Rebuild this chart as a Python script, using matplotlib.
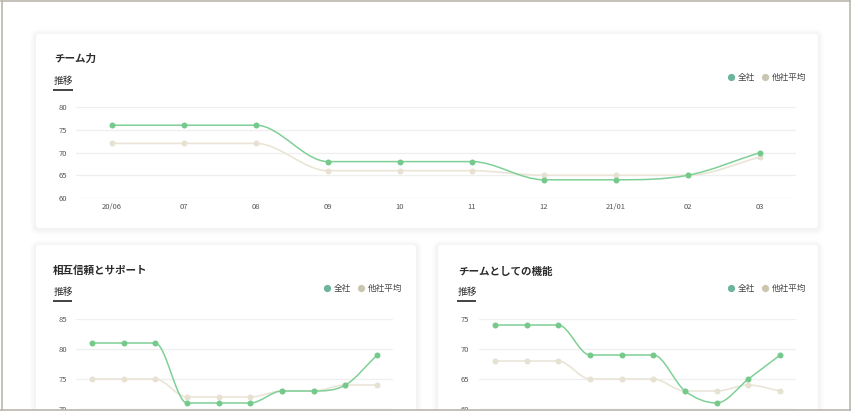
import numpy as np
import matplotlib
matplotlib.use("Agg")
import matplotlib.pyplot as plt
from matplotlib.path import Path
from matplotlib.patches import PathPatch, FancyBboxPatch, Rectangle
from matplotlib.lines import Line2D

plt.rcParams['font.family'] = ['Noto Sans CJK JP', 'DejaVu Sans']

# data
months = ["20/06", "07", "08", "09", "10", "11", "12", "21/01", "02", "03"]
series_names = ["全社", "他社平均"]

team_power_all = [76, 76, 76, 68, 68, 68, 64, 64, 65, 70]
team_power_avg = [72, 72, 72, 66, 66, 66, 65, 65, 65, 69]

trust_all = [81, 81, 81, 71, 71, 71, 73, 73, 74, 79]
trust_avg = [75, 75, 75, 72, 72, 72, 73, 73, 74, 74]

function_all = [74, 74, 74, 69, 69, 69, 63, 61, 65, 69]
function_avg = [68, 68, 68, 65, 65, 65, 63, 63, 64, 63]

W, H = 851, 412
GREEN_LINE = "#7fd096"
GREEN_PT = "#74c98b"
BEIGE_LINE = "#ebe5d8"
BEIGE_PT = "#e7e1d1"
GREEN_LEG = "#6db59a"
BEIGE_LEG = "#cac6b0"
TEXT = "#2b2b2b"


def rect(x0, y0, x1, y1):
    # pixel box (top-left origin) -> figure fraction
    return [x0 / W, 1 - y1 / H, (x1 - x0) / W, (y1 - y0) / H]


def monotone_path(ys):
    # monotone cubic curve through the points, drawn as bezier segments
    ys = np.asarray(ys, dtype=float)
    n = len(ys)
    d = np.diff(ys)
    m = np.zeros(n)
    m[0] = d[0]
    m[-1] = d[-1]
    for k in range(1, n - 1):
        if d[k - 1] * d[k] > 0:
            m[k] = (d[k - 1] + d[k]) / 2
    for k in range(n - 1):
        if d[k] == 0:
            m[k] = 0
            m[k + 1] = 0
    for k in range(n - 1):
        if d[k] == 0:
            continue
        a = m[k] / d[k]
        b = m[k + 1] / d[k]
        s = a * a + b * b
        if s > 9:
            t = 3 / np.sqrt(s)
            m[k] = t * a * d[k]
            m[k + 1] = t * b * d[k]
    verts = [(0, ys[0])]
    codes = [Path.MOVETO]
    for k in range(n - 1):
        verts += [(k + 1 / 3, ys[k] + m[k] / 3),
                  (k + 2 / 3, ys[k + 1] - m[k + 1] / 3),
                  (k + 1, ys[k + 1])]
        codes += [Path.CURVE4] * 3
    return Path(verts, codes)


fig = plt.figure(figsize=(W / 100, H / 100), dpi=100)
fig.patch.set_facecolor("white")

bg = fig.add_axes([0, 0, 1, 1])
bg.set_xlim(0, W)
bg.set_ylim(H, 0)
bg.axis("off")


def card(x0, y0, x1, y1):
    for i in range(1, 7):
        bg.add_patch(FancyBboxPatch((x0 - i, y0 - i + 1), x1 - x0 + 2 * i, y1 - y0 + 2 * i,
                                    boxstyle="round,pad=0,rounding_size=%d" % (3 + i),
                                    fc="#000000", ec="none", alpha=0.008))
    bg.add_patch(FancyBboxPatch((x0, y0), x1 - x0, y1 - y0,
                                boxstyle="round,pad=0,rounding_size=3",
                                fc="white", ec="none"))


def header(title, tx, ty, sub_y, ul_x0, ul_x1, leg_x):
    bg.text(tx, ty, title, fontsize=7.6, fontweight="bold", color=TEXT,
            ha="left", va="center")
    bg.text(ul_x0 + 0.5, sub_y, "推移", fontsize=7.0, color=TEXT,
            ha="left", va="center")
    bg.plot([ul_x0, ul_x1], [sub_y + 8.5, sub_y + 8.5], color="#222222", lw=1.2,
            solid_capstyle="butt")
    leg_y = sub_y - 4
    bg.plot([leg_x], [leg_y], "o", ms=5.2, color=GREEN_LEG, mec="none")
    bg.text(leg_x + 6.5, leg_y, series_names[0], fontsize=6.2, color="#444444",
            ha="left", va="center")
    bg.plot([leg_x + 33.5], [leg_y], "o", ms=5.2, color=BEIGE_LEG, mec="none")
    bg.text(leg_x + 40.5, leg_y, series_names[1], fontsize=6.2, color="#444444",
            ha="left", va="center")


def chart(box, all_vals, avg_vals, ylim, yticks, show_x, pad_y):
    ax = fig.add_axes(rect(*box))
    ax.set_facecolor("none")
    ax.set_xlim(-0.5, len(months) - 0.5)
    ax.set_ylim(*ylim)
    ax.set_yticks(yticks)
    for v in yticks:
        c = "#e4e4ee" if v == ylim[0] else "#efefef"
        ax.axhline(v, color=c, lw=0.9, zorder=0)
    for s in ax.spines.values():
        s.set_visible(False)
    ax.tick_params(axis="y", length=0, pad=pad_y, labelsize=5.5, labelcolor="#555555")
    if show_x:
        ax.set_xticks(range(len(months)))
        ax.set_xticklabels(months)
        ax.tick_params(axis="x", length=0, pad=3.3, labelsize=5.5, labelcolor="#555555")
    else:
        ax.set_xticks([])
    x = np.arange(len(months))
    ax.add_patch(PathPatch(monotone_path(avg_vals), fc="none", ec=BEIGE_LINE, lw=1.2,
                           zorder=2))
    ax.plot(x, avg_vals, "o", ms=4.3, color=BEIGE_PT, mec="none", zorder=3)
    ax.add_patch(PathPatch(monotone_path(all_vals), fc="none", ec=GREEN_LINE, lw=1.1,
                           zorder=4))
    ax.plot(x, all_vals, "o", ms=4.3, color=GREEN_PT, mec="none", zorder=5)
    return ax


# cards
card(36, 34, 818, 228)
card(36, 245, 416, 430)
card(438, 245, 818, 430)

header("チーム力", 54, 59, 81, 53, 73, 731)
header("相互信頼とサポート", 53, 271, 292, 53, 72, 327)
header("チームとしての機能", 458, 272, 292, 457, 476, 731)

chart((76, 107, 796, 198), team_power_all, team_power_avg, (60, 80),
      [60, 65, 70, 75, 80], True, 6.3)
chart((76, 319, 393, 409), trust_all, trust_avg, (70, 85),
      [70, 75, 80, 85], False, 6.3)
chart((479, 319, 796, 409), function_all, function_avg, (60, 75),
      [60, 65, 70, 75], False, 7.0)

# screenshot frame on top
fig.add_artist(Rectangle((0, 0), 1, 2.5 / H, transform=fig.transFigure,
                         fc="white", ec="none", zorder=50))
frame = "#bab6ad"
for xs, ys in [((1.5, 1.5), (0, 409.5)), ((849.5, 849.5), (0, 409.5)),
               ((1, 850), (0.5, 0.5)), ((0, 851), (409.5, 409.5))]:
    fig.add_artist(Line2D([v / W for v in xs], [1 - v / H for v in ys],
                          transform=fig.transFigure, color=frame, lw=1.2, zorder=51))

fig.savefig("out.png", dpi=100)
